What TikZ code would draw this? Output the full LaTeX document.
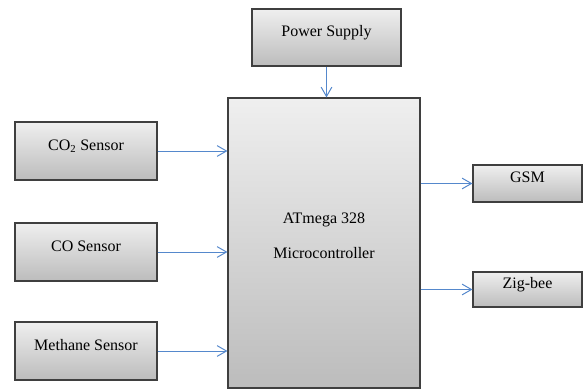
\documentclass[tikz,border=0pt]{standalone}
\usepackage{fontspec}
\setmainfont{Liberation Serif}
\usetikzlibrary{arrows.meta,shadows}
\definecolor{arblue}{HTML}{5588CC}
\definecolor{boxedge}{HTML}{3F3F3F}
\definecolor{boxtop}{HTML}{EFEFEF}
\definecolor{boxbot}{HTML}{BCBCBC}

\begin{document}
\begin{tikzpicture}[x=0.75pt,y=-0.75pt,font=\rmfamily\fontsize{12}{13}\selectfont,
  blk/.style={rectangle,draw=boxedge,line width=0.8pt,top color=boxtop,bottom color=boxbot,
    drop shadow={shadow xshift=0.9pt,shadow yshift=-0.9pt,fill=black!60,opacity=0.5},
    inner sep=0pt,text height=8pt,text depth=9pt},
  link/.style={-{Straight Barb[length=7pt,width=8pt]},arblue,line width=0.75pt}]
  \useasboundingbox (0,0) rectangle (583,389);

  % controller and supply
  \node[blk,minimum width=144pt,minimum height=217.5pt,align=center,text height=34pt,text depth=11pt]
    (mcu) at (324,243) {ATmega 328\\[13pt]Microcontroller};
  \node[blk,minimum width=111.75pt,minimum height=42.75pt] (power) at (326.5,37.5) {Power Supply};
  \draw[link] (power) -- (power |- mcu.north);

  % sensors
  \foreach \y/\nm/\txt in {151/co2/{CO\textsubscript{2} Sensor},252/co/{CO Sensor},351/meth/{Methane Sensor}}{
    \node[blk,minimum width=106.5pt,minimum height=43.5pt] (\nm) at (86,\y) {\txt};
    \draw[link] (\nm) -- (\nm -| mcu.west);
  }

  % outputs
  \node[blk,minimum width=81.75pt,minimum height=27.75pt] (gsm) at (527.5,183.5) {GSM};
  \node[blk,minimum width=81.75pt,minimum height=26.25pt] (zig) at (527.5,289.5) {Zig-bee};
  \draw[link] (gsm -| mcu.east) -- (gsm);
  \draw[link] (zig -| mcu.east) -- (zig);
\end{tikzpicture}
\end{document}
